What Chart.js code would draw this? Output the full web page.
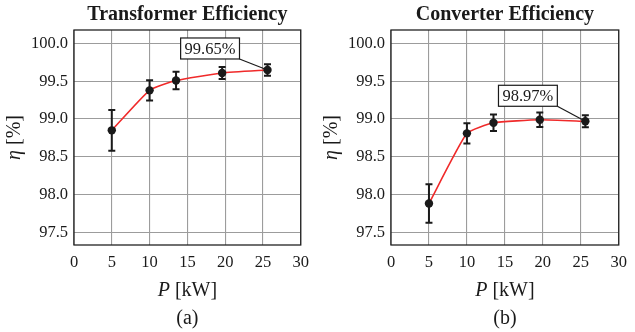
<!DOCTYPE html>
<html>
<head>
<meta charset="utf-8">
<script src="https://cdn.jsdelivr.net/npm/chart.js@4.4.1/dist/chart.umd.min.js"></script>
<style>
  html, body { margin: 0; padding: 0; background: #fff; }
  .panel { position: absolute; top: 0; height: 332px; }
</style>
</head>
<body>
<div class="panel" style="left:0;width:317px"><canvas id="trafoChart" width="317" height="332"></canvas></div>
<div class="panel" style="left:317px;width:318px"><canvas id="convChart" width="318" height="332"></canvas></div>
<script>
// measured operating points (kW)
const powerKW = [5, 10, 13.5, 19.6, 25.6];

// transformer efficiency [%] and error half-width
const trafoEff = [98.85, 99.38, 99.51, 99.61, 99.65];
const trafoErr = [0.27, 0.135, 0.115, 0.08, 0.075];

// converter efficiency [%] and error half-width
const convEff = [97.88, 98.81, 98.95, 98.99, 98.97];
const convErr = [0.255, 0.135, 0.11, 0.095, 0.08];

const xTicks = [0, 5, 10, 15, 20, 25, 30];
const yTicks = [97.5, 98.0, 98.5, 99.0, 99.5, 100.0];

const SERIF = '"Liberation Serif", "Times New Roman", serif';
const INK = '#1a1a1a';

// error bars, drawn right after the red line so the markers sit on top
const errorBars = {
  id: 'errorBars',
  afterDatasetDraw(chart, args, opts) {
    if (args.index !== 0) return;
    const { ctx, scales: { x, y } } = chart;
    const vals = chart.data.datasets[0].data;
    ctx.save();
    ctx.strokeStyle = INK;
    ctx.lineWidth = 2;
    vals.forEach((p, i) => {
      const px = x.getPixelForValue(p.x);
      const top = y.getPixelForValue(p.y + opts.errors[i]);
      const bot = y.getPixelForValue(p.y - opts.errors[i]);
      ctx.beginPath();
      ctx.moveTo(px, top); ctx.lineTo(px, bot);
      ctx.moveTo(px - 3.5, top); ctx.lineTo(px + 3.5, top);
      ctx.moveTo(px - 3.5, bot); ctx.lineTo(px + 3.5, bot);
      ctx.stroke();
    });
    ctx.restore();
  }
};

// frame, axis titles, panel tag and the callout for the last point
const decorations = {
  id: 'decorations',
  beforeDatasetsDraw(chart) {
    const { ctx, chartArea: a } = chart;
    ctx.save();
    ctx.strokeStyle = '#222';
    ctx.lineWidth = 1.3;
    ctx.strokeRect(a.left, a.top, a.right - a.left, a.bottom - a.top);
    ctx.restore();
  },
  afterDraw(chart, args, opts) {
    const { ctx, chartArea: a, scales: { x, y } } = chart;
    const cx = (a.left + a.right) / 2;
    ctx.save();
    ctx.fillStyle = INK;
    ctx.textBaseline = 'middle';

    // title
    ctx.font = 'bold 20px ' + SERIF;
    ctx.textAlign = 'center';
    ctx.fillText(opts.title, cx, 15);

    // mixed italic / upright labels
    const mixed = (ital, rest, xc, yc) => {
      ctx.font = 'italic 20px ' + SERIF;
      const w1 = ctx.measureText(ital).width;
      ctx.font = '20px ' + SERIF;
      const w2 = ctx.measureText(rest).width;
      let sx = xc - (w1 + w2) / 2;
      ctx.textAlign = 'left';
      ctx.font = 'italic 20px ' + SERIF;
      ctx.fillText(ital, sx, yc);
      ctx.font = '20px ' + SERIF;
      ctx.fillText(rest, sx + w1, yc);
    };
    mixed('P', ' [kW]', cx, 291);

    ctx.save();
    ctx.translate(15, (a.top + a.bottom) / 2);
    ctx.rotate(-Math.PI / 2);
    mixed('\u03b7', ' [%]', 0, 0);
    ctx.restore();

    ctx.font = '20px ' + SERIF;
    ctx.textAlign = 'center';
    ctx.fillText(opts.tag, cx, 319);

    // callout box with leader line
    const pts = chart.data.datasets[1].data;
    const last = pts[pts.length - 1];
    const px = x.getPixelForValue(last.x);
    const py = y.getPixelForValue(last.y);
    const label = last.y.toFixed(2) + '%';
    ctx.font = '16.5px ' + SERIF;
    const bw = ctx.measureText(label).width + 8;
    const bh = 21;
    const bx = px + opts.dx - bw;
    const by = py + opts.dy - bh;
    ctx.strokeStyle = INK;
    ctx.lineWidth = 1.2;
    ctx.beginPath();
    ctx.moveTo(px + opts.dx, py + opts.dy);
    ctx.lineTo(px, py);
    ctx.stroke();
    ctx.fillStyle = '#fff';
    ctx.fillRect(bx, by, bw, bh);
    ctx.strokeRect(bx, by, bw, bh);
    ctx.fillStyle = INK;
    ctx.fillText(label, bx + bw / 2, by + bh / 2 + 1);
    ctx.restore();
  }
};

function makeChart(id, eff, err, title, tag, dx, dy) {
  const pts = powerKW.map((p, i) => ({ x: p, y: eff[i] }));
  return new Chart(document.getElementById(id).getContext('2d'), {
    type: 'scatter',
    data: {
      datasets: [{
        type: 'line',
        data: pts,
        borderColor: '#f02a2a',
        borderWidth: 1.6,
        pointRadius: 0,
        tension: 0.15,
        order: 2
      }, {
        data: pts,
        pointRadius: 4.2,
        backgroundColor: INK,
        borderWidth: 0,
        order: 1
      }]
    },
    options: {
      responsive: false,
      animation: false,
      devicePixelRatio: 1,
      layout: { padding: { top: 30, right: 10, left: 0, bottom: 0 } },
      scales: {
        x: {
          type: 'linear',
          min: 0,
          max: 30,
          afterBuildTicks: s => { s.ticks = xTicks.map(v => ({ value: v })); },
          afterFit: s => { s.height = 87; },
          ticks: { font: { family: SERIF, size: 16.5 }, color: INK, padding: 8, maxRotation: 0 },
          grid: { color: '#9c9c9c', lineWidth: 1.1, drawTicks: false },
          border: { display: false }
        },
        y: {
          min: 97.33,
          max: 100.18,
          afterBuildTicks: s => { s.ticks = yTicks.map(v => ({ value: v })); },
          afterFit: s => { s.width = 74; },
          ticks: {
            font: { family: SERIF, size: 16.5 },
            color: INK,
            padding: 6,
            callback: v => v.toFixed(1)
          },
          grid: { color: '#9c9c9c', lineWidth: 1.1, drawTicks: false },
          border: { display: false }
        }
      },
      plugins: {
        legend: { display: false },
        tooltip: { enabled: false },
        errorBars: { errors: err },
        decorations: { title, tag, dx, dy }
      }
    },
    plugins: [errorBars, decorations]
  });
}

makeChart('trafoChart', trafoEff, trafoErr, 'Transformer Efficiency', '(a)', -28, -11);
makeChart('convChart', convEff, convErr, 'Converter Efficiency', '(b)', -28, -15);
</script>
</body>
</html>
